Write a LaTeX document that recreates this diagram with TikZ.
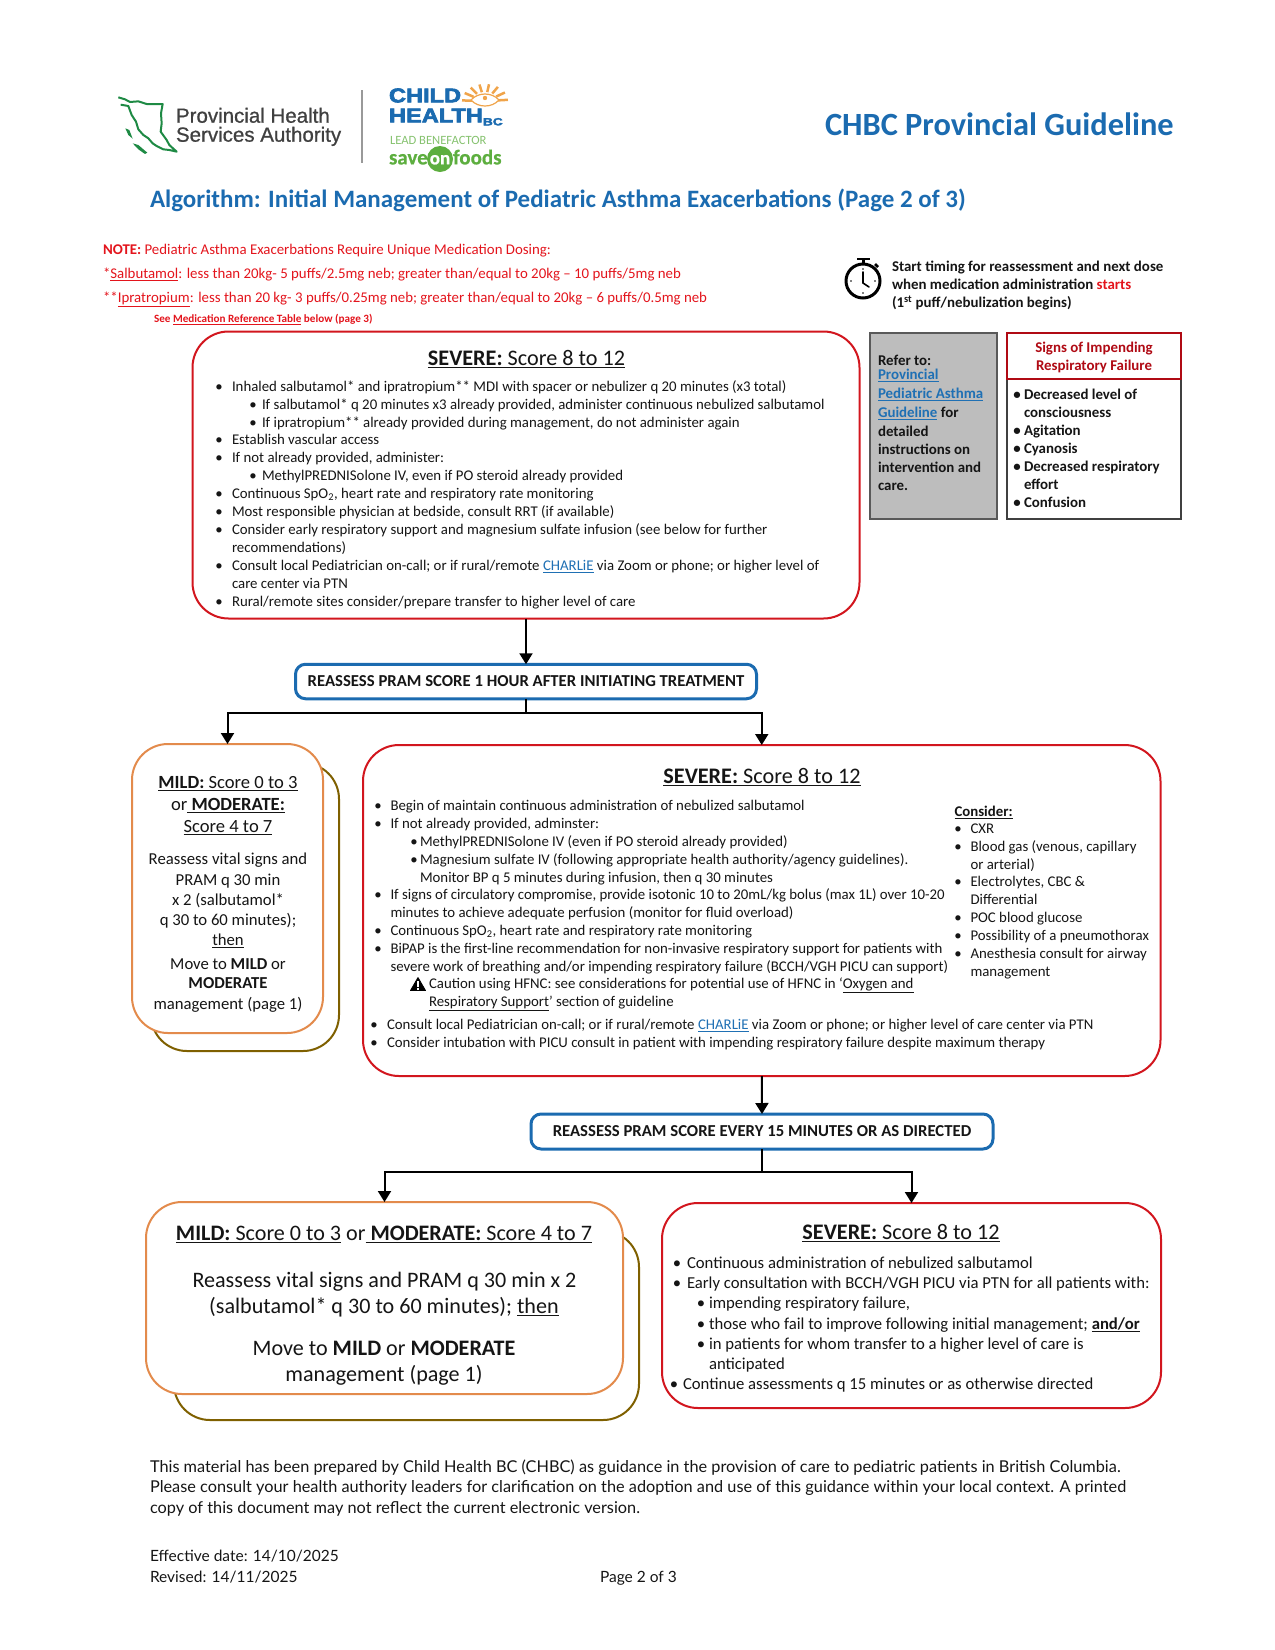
\documentclass[tikz,border=0pt]{standalone}
\usepackage{fontspec}
\setmainfont{Carlito}
\newfontfamily\footf{Lato}
\newfontfamily\logof[FakeBold=0.8]{Liberation Sans}
\newfontfamily\logoh[BoldFeatures={FakeBold=3}]{Liberation Sans}
\newfontfamily\logos[BoldFeatures={FakeBold=0.6}]{Carlito}
\usetikzlibrary{arrows.meta,calc}
\definecolor{redb}{HTML}{D2161E}
\definecolor{notered}{HTML}{E3141C}
\definecolor{darkred}{HTML}{B00A14}
\definecolor{blueb}{HTML}{1B6BB0}
\definecolor{linkb}{HTML}{1F70B4}
\definecolor{orangeb}{HTML}{E38B4C}
\definecolor{oliveb}{HTML}{7F6000}
\definecolor{greyb}{HTML}{BDBDBD}
\definecolor{txt}{HTML}{151515}
\definecolor{mapg}{HTML}{1E8A44}
\definecolor{saveg}{HTML}{5DAE3F}
\definecolor{sun}{HTML}{F0A44A}
\newcounter{tn}
\newcommand\fsz[1]{\fontsize{#1}{#1}\selectfont}
\newcommand\ul[1]{\underline{#1}}
\newcommand\lnk[1]{\textcolor{linkb}{\underline{#1}}}
\newcommand\tl[4][]{\stepcounter{tn}\node[tx,#1] (t\arabic{tn}) at (#2,#3) {#4};}
\newcommand\tc[4][]{\stepcounter{tn}\node[tx,anchor=mid,#1] (t\arabic{tn}) at (#2,#3) {#4};}
% bullet at x1, text at x2, y
\newcommand\bl[5][]{\tc[#1]{#2}{#4}{•}\tl[#1]{#3}{#4}{#5}}
\tikzset{
  tx/.style={anchor=mid west,inner sep=0pt,outer sep=0pt,text=txt,font=\fsz{14.82},yshift=-3pt},
  rbox/.style={draw,line width=2pt,rounded corners=36pt,inner sep=0pt,outer sep=0pt},
  sevbox/.style={rbox,draw=redb,fill=white},
  mildbox/.style={rbox,draw=orangeb,fill=white},
  backbox/.style={rbox,draw=oliveb,fill=white},
  rebox/.style={draw=blueb,line width=3pt,rounded corners=10pt,fill=white,inner sep=0pt,outer sep=0pt,font=\fsz{16.7}\bfseries,text=txt},
  conn/.style={draw=black,line width=2pt},
  arr/.style={conn,-{Triangle[length=11pt,width=13pt]}},
  sevt/.style={font=\fsz{22.2},yshift=-1.2pt},
}
\begin{document}
\begin{tikzpicture}[x=1pt,y=-1pt]
\useasboundingbox (0,0) rectangle (1275,1650);
% ---------- logos
\begin{scope}[shift={(110,90)},x=0.3333pt,y=-0.3333pt]
\draw[mapg,line width=2pt,line join=round] (25,22) -- (45,28) -- (60,36) -- (85,34) -- (110,42) -- (158,42) -- (153,70) -- (155,100) -- (152,125) -- (170,150) -- (178,165) -- (200,185) -- (178,180) -- (160,178) -- (140,168) -- (128,160) -- (115,145) -- (100,135) -- (85,118) -- (78,95) -- (65,75) -- (55,48) -- (32,44);
\fill[mapg] (46,115) -- (58,120) -- (68,146) -- (55,135) -- cycle;
\fill[mapg] (68,160) -- (85,165) -- (112,188) -- (105,192) -- (85,178) -- cycle;
\end{scope}
\draw[gray!80,line width=1.3pt] (362,90) -- (362,163);
\foreach \a in {4,30,56,80,104,128,152,178}{
  \draw[sun,line width=2.5pt] ($(485,101)+(-\a:13 and 9)$) -- ($(485,101)+(-\a:23 and 17)$);
}
\draw[sun,line width=1.2pt] (471,100) .. controls (478,92) and (492,92) .. (499,100) .. controls (492,108) and (478,108) .. (471,100);
\fill[sun] (485,98) circle (2.2);
\fill[saveg] (440,159) circle (13);
\tl[font=\logof\fsz{20.5},text=black!75,yshift=-2.3pt]{176}{115}{Provincial Health}
\tl[font=\logof\fsz{20.5},text=black!75,yshift=-2.3pt]{176}{134}{Services Authority}
\tl[font=\logoh\bfseries\fsz{20},text=blueb,yshift=-1pt]{389}{96}{\scalebox{1.18}[1]{CHILD}}
\tl[font=\logoh\bfseries\fsz{20},text=blueb,yshift=-1pt]{389}{116}{\scalebox{1.18}[1]{HEALTH}}
\tl[font=\logoh\bfseries\fsz{10.5},text=blueb]{483}{120}{\scalebox{1.3}[1]{BC}}
\tl[font=\fsz{12.6},text=saveg!75]{390}{139}{LEAD BENEFACTOR}
\tl[font=\logos\bfseries\fsz{21},text=saveg,yshift=-1pt]{389}{158}{save}
\tc[font=\logos\bfseries\fsz{19},text=white,yshift=-1pt]{440}{158}{on}
\tl[font=\logos\bfseries\fsz{21},text=saveg,yshift=-1pt]{453}{158}{foods}
% ---------- headings
\tl[font=\bfseries\fsz{32.4},text=blueb,yshift=-3.5pt]{825}{127}{CHBC Provincial Guideline}
\tl[font=\bfseries\fsz{25},text=blueb,yshift=-3.3pt]{150}{199}{Algorithm: Initial Management of Pediatric Asthma Exacerbations (Page 2 of 3)}
% ---------- notes
\tikzset{note/.style={text=notered,font=\fsz{14.85}}}
\tl[note]{103}{249}{\textbf{NOTE:} Pediatric Asthma Exacerbations Require Unique Medication Dosing:}
\tl[note]{103}{273}{*\ul{Salbutamol}: less than 20kg- 5 puffs/2.5mg neb; greater than/equal to 20kg -- 10 puffs/5mg neb}
\tl[note]{103}{297}{**\ul{Ipratropium}: less than 20 kg- 3 puffs/0.25mg neb; greater than/equal to 20kg -- 6 puffs/0.5mg neb}
\tl[note,font=\bfseries\fsz{11.15}]{154}{317}{See \ul{Medication Reference Table} below (page 3)}
% ---------- clock
\draw[black,line width=3pt] (863,281) circle (17);
\draw[black,line width=2.5pt] (857,259) -- (870,259) (863.5,259) -- (863.5,264);
\draw[black,line width=2.5pt] (875,264) -- (878,267);
\draw[black,line width=1.6pt,line cap=round] (863,272) -- (863,283) -- (869,287);
\fill[black] (863,269) circle (0.9) (863,293) circle (0.9) (851,281) circle (0.9) (875,281) circle (0.9);
\tl[font=\bfseries\fsz{14.9}]{892}{266}{Start timing for reassessment and next dose}
\tl[font=\bfseries\fsz{14.9}]{892}{284}{when medication administration \textcolor{notered}{starts}}
\tl[font=\bfseries\fsz{14.9}]{892}{302}{(1\textsuperscript{st} puff/nebulization begins)}
% ---------- grey and signs boxes
\node[draw=black!65,line width=1.5pt,fill=greyb,minimum width=127pt,minimum height=186pt,inner sep=0pt,outer sep=0pt] (greybox) at (933.5,426) {};
\node[draw=black!75,line width=1.2pt,fill=white,minimum width=174pt,minimum height=186pt,inner sep=0pt,outer sep=0pt] (signsbody) at (1094,426) {};
\node[draw=darkred,line width=2pt,fill=white,minimum width=174pt,minimum height=46pt,inner sep=0pt,outer sep=0pt] (signshead) at (1094,356) {};
\tikzset{gb/.style={font=\bfseries\fsz{14.9}}}
\tl[gb]{878}{360}{Refer to:}
\tl[gb]{878}{374}{\lnk{Provincial}}
\tl[gb]{878}{393}{\lnk{Pediatric Asthma}}
\tl[gb]{878}{412}{\lnk{Guideline} for}
\tl[gb]{878}{431}{detailed}
\tl[gb]{878}{449}{instructions on}
\tl[gb]{878}{467}{intervention and}
\tl[gb]{878}{485}{care.}
\tc[gb,text=darkred]{1094}{347}{Signs of Impending}
\tc[gb,text=darkred]{1094}{365}{Respiratory Failure}
\bl[gb]{1017}{1024}{394}{Decreased level of}
\tl[gb]{1024}{412.5}{consciousness}
\bl[gb]{1017}{1024}{430.5}{Agitation}
\bl[gb]{1017}{1024}{448.5}{Cyanosis}
\bl[gb]{1017}{1024}{466.5}{Decreased respiratory}
\tl[gb]{1024}{484.5}{effort}
\bl[gb]{1017}{1024}{502.5}{Confusion}
% ---------- Severe 1
\node[sevbox,minimum width=667pt,minimum height=287pt] (sev1) at (526,475) {};
\tc[sevt]{526.5}{359}{\ul{\textbf{SEVERE:} Score 8 to 12}}
\bl{219}{232}{386.5}{Inhaled salbutamol* and ipratropium** MDI with spacer or nebulizer q 20 minutes (x3 total)}
\bl{253}{262}{404}{If salbutamol* q 20 minutes x3 already provided, administer continuous nebulized salbutamol}
\bl{253}{262}{422}{If ipratropium** already provided during management, do not administer again}
\bl{219}{232}{439}{Establish vascular access}
\bl{219}{232}{457}{If not already provided, administer:}
\bl{253}{262}{475}{MethylPREDNISolone IV, even if PO steroid already provided}
\bl{219}{232}{493}{Continuous SpO\textsubscript{2}, heart rate and respiratory rate monitoring}
\bl{219}{232}{511}{Most responsible physician at bedside, consult RRT (if available)}
\bl{219}{232}{529}{Consider early respiratory support and magnesium sulfate infusion (see below for further}
\tl{232}{547}{recommendations)}
\bl{219}{232}{565}{Consult local Pediatrician on-call; or if rural/remote \lnk{CHARLiE} via Zoom or phone; or higher level of}
\tl{232}{583}{care center via PTN}
\bl{219}{232}{601}{Rural/remote sites consider/prepare transfer to higher level of care}
% ---------- Reassess 1
\node[rebox,minimum width=461pt,minimum height=34.5pt] (re1) at (526,681.5) {\raisebox{-1pt}{REASSESS PRAM SCORE 1 HOUR AFTER INITIATING TREATMENT}};
\draw[arr] (sev1.south) -- (re1.north);
% ---------- mild 1
\node[backbox,minimum width=188pt,minimum height=288pt] (mildback1) at (245,907) {};
\node[mildbox,minimum width=191pt,minimum height=289pt] (mild1) at (227.5,888.5) {};
\tikzset{md/.style={font=\fsz{16.7}},mdt/.style={font=\fsz{18.6}}}
\tc[mdt]{228}{783}{\ul{\textbf{MILD:} Score 0 to 3}}
\tc[mdt]{228}{805}{or\ul{ \textbf{MODERATE:}}}
\tc[mdt]{228}{827}{\ul{Score 4 to 7}}
\tc[md]{228}{859}{Reassess vital signs and}
\tc[md]{228}{880}{PRAM q 30 min}
\tc[md]{228}{900}{x 2 (salbutamol*}
\tc[md]{228}{920}{q 30 to 60 minutes);}
\tc[md]{228}{940}{\ul{then}}
\tc[md]{228}{964}{Move to \textbf{MILD} or}
\tc[md]{228}{983}{\textbf{MODERATE}}
\tc[md]{228}{1004}{management (page 1)}
% ---------- Severe 2
\node[sevbox,minimum width=797.5pt,minimum height=331pt] (sev2) at (761.75,910.5) {};
\coordinate (j1) at (526,713);
\draw[conn] (re1.south) -- (j1);
\draw[arr] (j1) -| (mild1.north);
\draw[arr] (j1) -| (sev2.north);
\tc[sevt]{762}{777}{\ul{\textbf{SEVERE:} Score 8 to 12}}
\bl{378}{390.5}{805}{Begin of maintain continuous administration of nebulized salbutamol}
\bl{378}{390.5}{823}{If not already provided, adminster:}
\bl{414}{420}{841}{MethylPREDNISolone IV (even if PO steroid already provided)}
\bl{414}{420}{859}{Magnesium sulfate IV (following appropriate health authority/agency guidelines).}
\tl{420}{877}{Monitor BP q 5 minutes during infusion, then q 30 minutes}
\bl{378}{390.5}{894}{If signs of circulatory compromise, provide isotonic 10 to 20mL/kg bolus (max 1L) over 10-20}
\tl{390.5}{912}{minutes to achieve adequate perfusion (monitor for fluid overload)}
\bl{378}{390.5}{930}{Continuous SpO\textsubscript{2}, heart rate and respiratory rate monitoring}
\bl{378}{390.5}{948}{BiPAP is the first-line recommendation for non-invasive respiratory support for patients with}
\tl{390.5}{966}{severe work of breathing and/or impending respiratory failure (BCCH/VGH PICU can support)}
\fill[black,line join=round,draw=black,line width=0.8pt] (410.5,990.5) -- (418,977.5) -- (425.5,990.5) -- cycle;
\draw[white,line width=1.3pt] (418,981) -- (418,986.5) (418,987.5) -- (418,989.5);
\tl{429}{983}{Caution using HFNC: see considerations for potential use of HFNC in `\ul{Oxygen and}}
\tl{429}{1001}{\ul{Respiratory Support}' section of guideline}
\bl{374}{387}{1024}{Consult local Pediatrician on-call; or if rural/remote \lnk{CHARLiE} via Zoom or phone; or higher level of care center via PTN}
\bl{374}{387}{1042}{Consider intubation with PICU consult in patient with impending respiratory failure despite maximum therapy}
\tl[font=\bfseries\fsz{14.82}]{954.5}{811}{\ul{Consider:}}
\bl{958}{970.5}{828}{CXR}
\bl{958}{970.5}{846}{Blood gas (venous, capillary}
\tl{970.5}{864}{or arterial)}
\bl{958}{970.5}{881}{Electrolytes, CBC \&}
\tl{970.5}{899}{Differential}
\bl{958}{970.5}{917}{POC blood glucose}
\bl{958}{970.5}{935}{Possibility of a pneumothorax}
\bl{958}{970.5}{953}{Anesthesia consult for airway}
\tl{970.5}{971}{management}
% ---------- Reassess 2
\node[rebox,minimum width=462pt,minimum height=35pt] (re2) at (762,1131.5) {\raisebox{-1pt}{REASSESS PRAM SCORE EVERY 15 MINUTES OR AS DIRECTED}};
\draw[arr] (sev2.south) -- (re2.north);
% ---------- mild 3
\node[backbox,minimum width=465pt,minimum height=189pt] (mildback3) at (406.5,1325.5) {};
\node[mildbox,minimum width=477pt,minimum height=192pt] (mild3) at (384.5,1298) {};
\tikzset{mb/.style={font=\fsz{22.1},yshift=-2pt}}
\tc[mb]{384}{1233}{\ul{\textbf{MILD:} Score 0 to 3} or\ul{ \textbf{MODERATE:} Score 4 to 7}}
\tc[mb]{384.5}{1280}{Reassess vital signs and PRAM q 30 min x 2}
\tc[mb]{384}{1306}{(salbutamol* q 30 to 60 minutes); \ul{then}}
\tc[mb]{384}{1348}{Move to \textbf{MILD} or \textbf{MODERATE}}
\tc[mb]{384}{1374}{management (page 1)}
% ---------- Severe 3
\node[sevbox,minimum width=499pt,minimum height=205pt] (sev3) at (911.5,1305.5) {};
\coordinate (j2) at (762,1172);
\draw[conn] (re2.south) -- (j2);
\draw[arr] (j2) -| (mild3.north);
\draw[arr] (j2) -| (sev3.north);
\tc[sevt]{901}{1233}{\ul{\textbf{SEVERE:} Score 8 to 12}}
\tikzset{sv/.style={font=\fsz{16.7}}}
\bl[sv]{677}{687}{1263}{Continuous administration of nebulized salbutamol}
\bl[sv]{677}{687}{1283}{Early consultation with BCCH/VGH PICU via PTN for all patients with:}
\bl[sv]{701}{709}{1303}{impending respiratory failure,}
\bl[sv]{701}{709}{1324}{those who fail to improve following initial management; \ul{\textbf{and/or}}}
\bl[sv]{701}{709}{1344}{in patients for whom transfer to a higher level of care is}
\tl[sv]{709}{1364}{anticipated}
\bl[sv]{674}{683}{1384}{Continue assessments q 15 minutes or as otherwise directed}
% ---------- footer
\tikzset{ft/.style={font=\footf\fsz{16.3}},ftb/.style={font=\footf\fsz{15.5}}}
\tl[ft]{150}{1467}{This material has been prepared by Child Health BC (CHBC) as guidance in the provision of care to pediatric patients in British Columbia.}
\tl[ft]{150}{1487}{Please consult your health authority leaders for clarification on the adoption and use of this guidance within your local context. A printed}
\tl[ft]{150}{1508}{copy of this document may not reflect the current electronic version.}
\tl[ftb]{150}{1556}{Effective date: 14/10/2025}
\tl[ftb]{150}{1577}{Revised: 14/11/2025}
\tl[ftb]{600}{1577}{Page 2 of 3}
\end{tikzpicture}
\end{document}
